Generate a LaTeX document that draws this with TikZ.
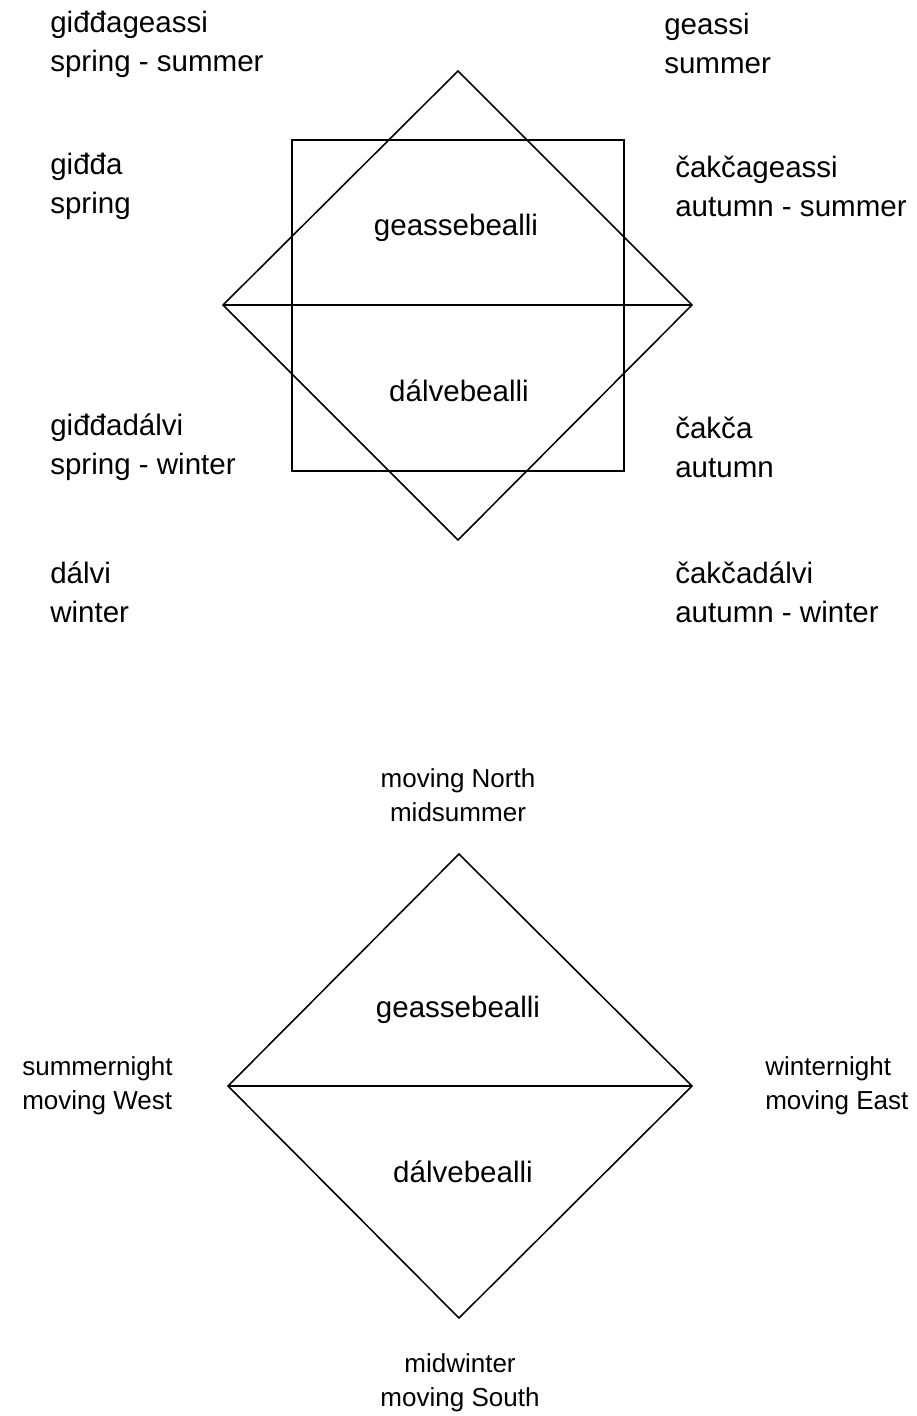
\documentclass[tikz,border=0pt]{standalone}
\usepackage{fontspec}
\setmainfont{Liberation Sans}
\usepackage{tikz}
\usetikzlibrary{positioning}

\tikzset{
  season/.style={inner sep=0pt, anchor=west, align=left, font=\fontsize{21}{27.7}\selectfont},
  half/.style={inner sep=0pt, font=\fontsize{21}{27.7}\selectfont},
  moment/.style={inner sep=0pt, align=center, font=\fontsize{18.5}{24}\selectfont},
  edge/.style={line width=1.1pt, line join=miter}
}

\begin{document}
\begin{tikzpicture}[x=0.025cm, y=-0.025cm]
    \useasboundingbox (0,0) rectangle (916,1416);
    % upper figure: corners
    \coordinate (uN) at (458,71);
    \coordinate (uW) at (223,305);
    \coordinate (uE) at (692,305);
    \coordinate (uS) at (458,540);
    \coordinate (sqNW) at (292,140);
    \coordinate (sqSE) at (624,471);
    \draw[edge] (uN) -- (uE) -- (uS) -- (uW) -- cycle;
    \draw[edge] (uW) -- (uE);
    \draw[edge] (sqNW) rectangle (sqSE);
    \node[half] (usummer) at (456,228) {geassebealli};
    \node[half] (uwinter) at (459,391) {dálvebealli};
    % upper figure: seasons
    \node[season] (giddageassi) at (50,44) {giđđageassi\\spring - summer};
    \node[season] (giddda) at (50,186) {giđđa\\spring};
    \node[season] (giddadalvi) at (50,447) {giđđadálvi\\spring - winter};
    \node[season] (dalvi) at (50,592) {dálvi\\winter};
    \node[season] (geassi) at (664,43) {geassi\\summer};
    \node[season] (cakcageassi) at (675,186) {čakčageassi\\autumn - summer};
    \node[season] (cakca) at (675,447) {čakča\\autumn};
    \node[season] (cakcadalvi) at (675,592) {čakčadálvi\\autumn - winter};
    % lower figure: corners
    \coordinate (lN) at (459,854);
    \coordinate (lW) at (228,1086);
    \coordinate (lE) at (692,1086);
    \coordinate (lS) at (459,1318);
    \draw[edge] (lN) -- (lE) -- (lS) -- (lW) -- cycle;
    \draw[edge] (lW) -- (lE);
    \node[half] (lsummer) at (458,1010) {geassebealli};
    \node[half] (lwinter) at (463,1172) {dálvebealli};
    % lower figure: directions
    \node[moment] (north) at (458,795) {moving North\\midsummer};
    \node[moment] (south) at (460,1383) {midwinter\\moving South};
    \node[moment, anchor=west, align=left] (west) at (22,1086) {summernight\\moving West};
    \node[moment, anchor=west, align=left] (east) at (765,1086) {winternight\\moving East};
\end{tikzpicture}
\end{document}
